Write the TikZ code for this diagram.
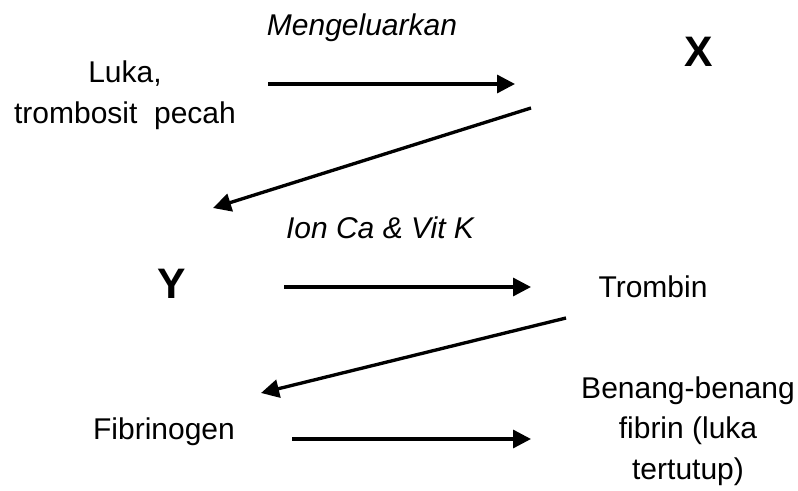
\documentclass[tikz,border=0pt]{standalone}
\usepackage{fontspec}
\setmainfont{Liberation Sans}
\usetikzlibrary{arrows.meta}
\usetikzlibrary{positioning}

\begin{document}
\begin{tikzpicture} [
    x=0.75pt, y=-0.75pt,
    term/.style={inner sep=0pt, align=center, font=\fontsize{22.5}{30.5}\selectfont},
    letter/.style={inner sep=0pt, font=\fontsize{32}{36}\selectfont\bfseries},
    agent/.style={inner sep=0pt, font=\fontsize{22.5}{27}\selectfont\itshape},
    flow/.style={line width=2.5pt, -{Triangle[length=13.5pt,width=13.5pt]}}
    ]
    \useasboundingbox (0,0) rectangle (798,491);
    %Nodes
    \node[term]      (luka)     at (125,95)      {Luka,\\trombosit\ \ pecah};
    \node[agent]     (keluar)   at (362,28)      {Mengeluarkan};
    \node[letter]    (x)        at (699,52)      {X};
    \node[letter]    (y)        at (172,284)     {Y};
    \node[agent]     (ionca)    at (380,228)     {Ion Ca \& Vit K};
    \node[term]      (trombin)  at (653,287)     {Trombin};
    \node[term]      (fibrino)  at (164,432)     {Fibrinogen};
    \node[term]      (benang)   at (688,431)     {Benang-benang\\fibrin (luka\\tertutup)};
    %Ends
    \coordinate (a1) at (268,84);   \coordinate (b1) at (515,84);
    \coordinate (a2) at (531,108);  \coordinate (b2) at (213,208);
    \coordinate (a3) at (284,287);  \coordinate (b3) at (531,287);
    \coordinate (a4) at (566,318);  \coordinate (b4) at (261,393);
    \coordinate (a5) at (292,439);  \coordinate (b5) at (531,439);
    %Lines
    \draw[flow] (a1) -- (b1);
    \draw[flow] (a2) -- (b2);
    \draw[flow] (a3) -- (b3);
    \draw[flow] (a4) -- (b4);
    \draw[flow] (a5) -- (b5);
\end{tikzpicture}
\end{document}
